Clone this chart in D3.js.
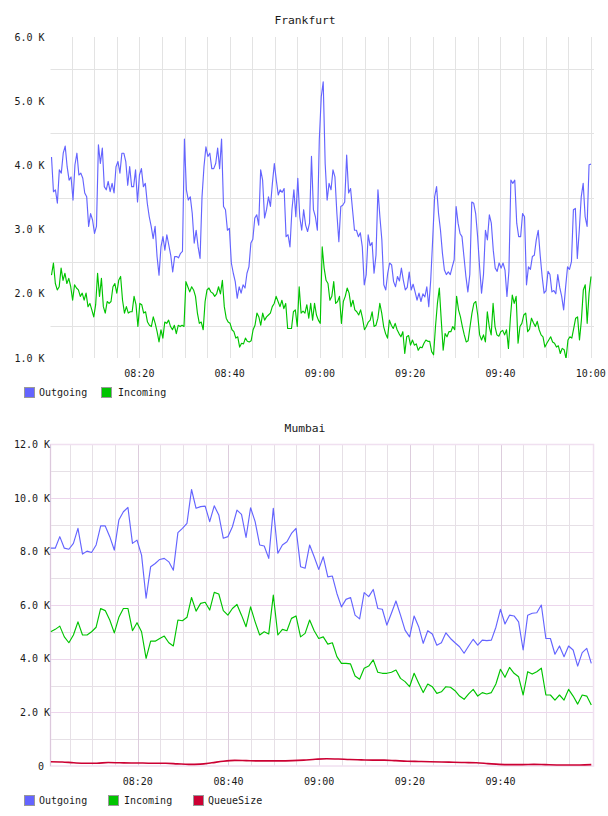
<!DOCTYPE html>
<html>
<head>
<meta charset="utf-8">
<script src="https://cdn.jsdelivr.net/npm/d3@7"></script>
<style>
html,body{margin:0;padding:0;background:#fff;}
svg{display:block;}
text{font-family:"DejaVu Sans Mono",monospace;fill:#1a1a1a;white-space:pre;}
</style>
</head>
<body>
<svg id="chart" width="608" height="816"></svg>
<script>
// ---------------- DATA ----------------
const seriesNames = ["Outgoing", "Incoming", "QueueSize"];
const seriesColors = ["#6464ff", "#00c400", "#cc0033"];

// Frankfurt (values in K), sampled uniformly between start and end
const ffTitle = "Frankfurt";
const ffStart = "08:00:32", ffEnd = "10:00:04";
const ffOutgoing = [4.13,3.59,3.62,3.41,3.93,3.88,4.19,4.30,3.98,3.77,3.82,3.46,4.01,4.19,3.85,3.88,3.80,3.57,3.51,3.05,3.25,3.15,2.94,3.05,4.32,4.03,4.27,3.67,3.62,3.75,3.59,3.72,3.57,3.98,4.06,3.88,4.19,4.19,4.06,3.69,3.98,3.67,3.67,3.93,3.43,3.85,3.95,3.67,3.72,3.41,3.20,3.05,2.86,3.05,2.58,2.29,2.73,2.89,2.68,2.92,2.76,2.60,2.34,2.58,2.58,2.56,2.63,2.66,4.41,3.62,3.46,3.51,3.25,2.79,2.99,2.73,2.55,3.51,3.98,4.29,4.14,4.19,3.95,3.95,4.03,4.27,3.95,4.41,3.36,3.31,2.99,3.02,2.48,2.32,2.19,1.93,2.11,2.01,2.14,2.09,2.32,2.42,2.79,2.85,3.18,3.23,3.07,3.93,3.77,3.18,3.31,3.51,3.36,3.72,4.03,3.77,3.54,3.62,3.58,3.64,2.89,2.92,2.73,3.31,3.62,3.20,3.80,3.20,2.99,3.31,3.07,2.97,3.10,4.14,3.31,3.20,2.99,4.40,5.07,5.30,4.03,3.46,3.72,3.62,3.93,3.82,3.25,2.81,3.36,3.38,3.43,4.16,3.57,3.64,3.31,2.99,2.99,2.89,2.95,2.73,2.14,2.30,2.92,2.75,2.80,2.32,2.60,3.62,3.20,2.84,2.14,2.06,2.32,2.48,2.45,2.19,2.11,2.27,2.20,2.40,2.21,2.06,2.10,2.34,2.06,2.15,2.03,1.90,2.01,1.88,2.00,1.95,2.11,1.80,2.21,2.84,3.51,3.67,3.25,2.99,2.63,2.37,2.30,2.34,2.30,2.42,2.53,3.36,3.10,2.94,2.89,2.58,2.27,2.03,2.30,3.43,3.41,3.25,2.89,2.42,2.01,2.30,2.99,2.84,3.23,3.10,2.68,2.40,2.35,2.48,2.40,2.48,2.37,1.96,2.35,3.77,3.72,3.77,3.10,2.89,2.89,3.25,3.20,2.14,2.42,2.38,2.58,2.60,2.84,2.99,2.60,2.27,2.01,2.05,2.35,2.30,2.03,2.05,2.00,2.30,2.10,1.96,1.75,2.10,2.42,2.38,2.50,3.31,3.33,2.55,2.99,3.51,3.72,3.20,3.05,4.01,4.02];
const ffIncoming = [2.29,2.48,2.16,2.06,2.11,2.40,2.21,2.32,2.16,2.24,2.11,1.90,2.14,2.09,2.06,1.96,2.01,1.90,2.01,1.80,1.85,1.75,1.64,1.83,2.32,1.96,2.24,1.80,1.70,1.88,1.85,1.88,2.11,2.16,2.01,2.21,2.27,1.90,1.70,1.80,1.70,1.72,1.72,1.96,1.83,1.49,1.85,1.83,1.70,1.72,1.56,1.51,1.49,1.64,1.54,1.41,1.25,1.44,1.31,1.56,1.54,1.59,1.49,1.44,1.51,1.38,1.51,1.49,1.51,1.49,2.19,2.11,2.03,2.11,2.06,1.96,1.70,1.54,1.56,1.44,1.88,2.06,2.09,2.03,2.01,1.96,2.00,2.11,2.00,2.21,1.80,1.62,1.56,1.54,1.44,1.41,1.31,1.33,1.17,1.23,1.22,1.31,1.26,1.25,1.27,1.44,1.51,1.70,1.64,1.51,1.70,1.59,1.64,1.67,1.70,1.80,1.85,1.96,1.88,1.80,1.90,1.77,1.85,1.46,1.46,1.46,1.72,1.75,1.49,2.11,1.70,1.73,1.70,1.83,1.62,1.85,1.59,1.85,1.67,1.59,1.54,2.73,2.40,2.21,2.16,1.90,1.96,2.19,1.85,1.88,1.96,1.54,1.88,1.96,2.09,2.01,1.80,1.90,1.75,1.72,1.67,1.75,1.62,1.44,1.49,1.56,1.59,1.72,1.49,1.51,1.62,1.85,1.70,1.49,1.38,1.31,1.59,1.51,1.46,1.54,1.44,1.38,1.33,1.41,1.07,1.33,1.35,1.20,1.28,1.20,1.22,1.12,1.17,1.16,1.23,1.28,1.26,1.26,1.10,1.05,1.49,1.85,2.09,1.59,1.12,1.38,1.33,1.41,1.41,1.49,1.44,1.96,1.75,1.64,1.49,1.36,1.25,1.27,1.49,1.70,1.85,1.88,1.67,1.36,1.28,1.36,1.25,1.72,1.49,1.36,1.85,1.49,1.36,1.34,1.41,1.43,1.36,1.44,1.15,1.62,1.98,1.85,1.96,1.23,1.49,1.54,1.67,1.70,1.41,1.45,1.62,1.55,1.49,1.57,1.44,1.36,1.33,1.17,1.23,1.28,1.33,1.25,1.23,1.17,1.19,1.07,1.15,1.13,0.99,1.28,1.33,1.31,1.46,1.62,1.64,1.28,1.59,2.06,2.14,1.54,2.01,2.27];
const ffYTicks = [1, 2, 3, 4, 5, 6];
const ffYLabels = ["1.0 K", "2.0 K", "3.0 K", "4.0 K", "5.0 K", "6.0 K"];
const ffYGrid = [1.5, 2.5, 3.5, 4.5, 5.5];
const ffXLabels = ["08:20", "08:40", "09:00", "09:20", "09:40", "10:00"];

// Mumbai (values in K)
const muTitle = "Mumbai";
const muStart = "08:00:49", muEnd = "10:00:00";
const muOutgoing = [8.13,8.13,8.56,8.13,8.09,8.31,8.87,7.91,8.02,7.97,8.25,8.96,8.96,8.56,8.06,9.18,9.49,9.65,8.31,8.43,7.87,6.26,7.44,7.56,7.71,7.75,7.62,7.31,8.71,8.87,9.06,10.32,9.62,9.68,9.70,9.12,9.71,9.37,8.50,8.56,8.93,9.55,9.39,8.53,9.64,9.12,8.25,8.21,7.75,9.62,7.94,8.25,8.37,8.68,8.87,7.44,7.38,8.25,7.81,7.34,7.81,7.06,7.09,6.44,5.94,6.22,6.29,5.63,5.49,6.47,6.32,6.59,5.88,5.85,5.26,5.70,6.16,5.63,5.07,4.82,5.60,5.20,4.58,5.05,4.93,4.51,4.60,4.97,4.76,4.60,4.45,4.21,4.48,4.73,4.51,4.70,4.68,4.70,5.18,5.85,5.30,5.63,5.60,5.38,4.33,5.63,5.70,5.72,6.01,4.76,4.76,4.17,4.48,4.08,4.48,4.33,3.73,4.23,4.39,3.83];
const muIncoming = [5.01,5.10,5.22,4.82,4.60,4.89,5.38,4.89,4.89,5.01,5.18,5.88,5.80,5.45,4.97,5.55,5.88,5.88,5.05,5.35,5.01,4.02,4.66,4.66,4.76,4.85,4.60,4.48,5.45,5.42,5.55,6.29,5.78,6.07,6.11,5.82,6.48,6.42,5.80,5.63,5.88,6.03,5.63,5.20,5.94,5.38,4.89,5.01,4.93,6.38,4.89,5.10,5.05,5.51,5.60,4.82,4.95,5.45,5.05,4.76,4.82,4.55,4.60,4.08,3.83,3.83,3.81,3.36,3.24,3.65,3.73,3.96,3.50,3.46,3.46,3.50,3.58,3.27,3.15,2.96,3.46,3.09,2.74,3.06,2.96,2.71,2.77,2.96,2.94,2.81,2.61,2.49,2.69,2.86,2.61,2.74,2.69,2.74,3.06,3.61,3.31,3.68,3.46,3.33,2.65,3.52,3.43,3.52,3.65,2.65,2.65,2.46,2.65,2.46,2.86,2.61,2.31,2.65,2.61,2.28];
const muQueue = [0.16,0.15,0.12,0.10,0.10,0.13,0.12,0.11,0.11,0.10,0.10,0.08,0.06,0.07,0.12,0.18,0.21,0.20,0.19,0.19,0.19,0.20,0.22,0.25,0.27,0.26,0.24,0.23,0.22,0.22,0.20,0.18,0.17,0.16,0.15,0.14,0.13,0.12,0.09,0.06,0.05,0.05,0.06,0.05,0.04,0.04,0.04,0.05];
const muYTicks = [0, 2, 4, 6, 8, 10, 12];
const muYLabels = ["0 ", "2.0 K", "4.0 K", "6.0 K", "8.0 K", "10.0 K", "12.0 K"];
const muYMinor = [1, 3, 5, 7, 9, 11];
const muXLabels = ["08:20", "08:40", "09:00", "09:20", "09:40"];

// ---------------- DRAW ----------------
const svg = d3.select("#chart");
const parseHM = d3.timeParse("%H:%M");
const parseHMS = d3.timeParse("%H:%M:%S");
const t0 = parseHM("08:00"), t1 = parseHM("10:00");

function samples(values, start, end) {
  const a = parseHMS(start).getTime(), b = parseHMS(end).getTime();
  const n = values.length;
  return values.map((v, i) => ({ t: new Date(a + (b - a) * i / (n - 1)), v }));
}

function fiveMinTicks() {
  return d3.timeMinute.every(5).range(d3.timeMinute.offset(t0, 5), d3.timeMinute.offset(t1, 1));
}

// ---------- Frankfurt ----------
(function () {
  const L = 50.5, R = 594, T = 37, B = 358;
  const x = d3.scaleTime().domain([t0, t1]).range([49.1, 590.7]);
  const y = d3.scaleLinear().domain([1, 6]).range([B, T]);
  const g = svg.append("g");

  g.append("text").attr("x", 305).attr("y", 24).attr("text-anchor", "middle")
    .style("font-size", "11.3px").text(ffTitle);

  g.selectAll(".hg").data(ffYGrid).join("line")
    .attr("x1", L).attr("x2", R)
    .attr("y1", d => Math.round(y(d)) + 0.5).attr("y2", d => Math.round(y(d)) + 0.5)
    .attr("stroke", "#e3e3e3").attr("stroke-width", 1);
  g.selectAll(".vg").data(fiveMinTicks()).join("line")
    .attr("x1", d => Math.round(x(d)) + 0.5).attr("x2", d => Math.round(x(d)) + 0.5)
    .attr("y1", T).attr("y2", B)
    .attr("stroke", "#e3e3e3").attr("stroke-width", 1);

  g.selectAll(".yl").data(ffYTicks).join("text")
    .attr("x", 44.5).attr("y", d => y(d)).attr("dy", "0.35em")
    .attr("text-anchor", "end").style("font-size", "10px")
    .text((d, i) => ffYLabels[i]);
  g.selectAll(".xl").data(ffXLabels).join("text")
    .attr("x", d => x(parseHM(d))).attr("y", 377)
    .attr("text-anchor", "middle").style("font-size", "10px")
    .text(d => d);

  svg.append("clipPath").attr("id", "clipF").append("rect")
    .attr("x", L).attr("y", T).attr("width", R - L).attr("height", B - T);
  const line = d3.line().x(d => x(d.t)).y(d => y(d.v));
  [ffOutgoing, ffIncoming].forEach((vals, i) => {
    g.append("path").datum(samples(vals, ffStart, ffEnd))
      .attr("clip-path", "url(#clipF)")
      .attr("d", line).attr("fill", "none")
      .attr("stroke", seriesColors[i]).attr("stroke-width", 1.15)
      .attr("stroke-linejoin", "round");
  });

  const lx = [24.5, 101.5], tx = [39, 118];
  [0, 1].forEach(i => {
    g.append("rect").attr("x", lx[i]).attr("y", 387.5).attr("width", 10).attr("height", 10)
      .attr("fill", seriesColors[i]).attr("stroke", "#999").attr("stroke-width", 1);
    g.append("text").attr("x", tx[i]).attr("y", 396).style("font-size", "10px").text(seriesNames[i]);
  });
})();

// ---------- Mumbai ----------
(function () {
  const L = 50.5, R = 593.5, T = 444.5, B = 766;
  const x = d3.scaleTime().domain([t0, t1]).range([47.0, 591.3]);
  const y = d3.scaleLinear().domain([0, 12]).range([B, T]);
  const g = svg.append("g");

  g.append("text").attr("x", 305).attr("y", 432).attr("text-anchor", "middle")
    .style("font-size", "11.3px").text(muTitle);

  const minorC = "#e6e0e6", majorC = "#ecd6ec";
  g.selectAll(".hm").data(muYMinor).join("line")
    .attr("x1", L).attr("x2", R)
    .attr("y1", d => Math.round(y(d)) + 0.5).attr("y2", d => Math.round(y(d)) + 0.5)
    .attr("stroke", minorC);
  g.selectAll(".vg").data(fiveMinTicks().filter(d => d < t1)).join("line")
    .attr("x1", d => Math.round(x(d)) + 0.5).attr("x2", d => Math.round(x(d)) + 0.5)
    .attr("y1", T).attr("y2", B)
    .attr("stroke", d => d.getMinutes() % 20 === 0 ? "#ddcddd" : minorC);
  g.selectAll(".hM").data(muYTicks.filter(d => d > 0 && d < 12)).join("line")
    .attr("x1", L).attr("x2", R)
    .attr("y1", d => Math.round(y(d)) + 0.5).attr("y2", d => Math.round(y(d)) + 0.5)
    .attr("stroke", majorC).attr("stroke-width", 1.2);

  g.append("rect").attr("x", L).attr("y", T).attr("width", R - L).attr("height", B - T)
    .attr("fill", "none").attr("stroke", "#f0e0f0").attr("stroke-width", 1.5);
  g.append("line").attr("x1", L).attr("x2", L).attr("y1", T).attr("y2", B)
    .attr("stroke", "#dcc8dc").attr("stroke-width", 1);

  g.selectAll(".yl").data(muYTicks).join("text")
    .attr("x", 50).attr("y", d => y(d)).attr("dy", "0.35em")
    .attr("text-anchor", "end").style("font-size", "10px")
    .text((d, i) => muYLabels[i]);
  g.selectAll(".xl").data(muXLabels).join("text")
    .attr("x", d => x(parseHM(d))).attr("y", 785)
    .attr("text-anchor", "middle").style("font-size", "10px")
    .text(d => d);

  svg.append("clipPath").attr("id", "clipM").append("rect")
    .attr("x", L).attr("y", T).attr("width", R - L).attr("height", B - T);
  const line = d3.line().x(d => x(d.t)).y(d => y(d.v));
  const smooth = d3.line().curve(d3.curveMonotoneX).x(d => x(d.t)).y(d => y(d.v));
  [muOutgoing, muIncoming, muQueue].forEach((vals, i) => {
    g.append("path").datum(samples(vals, muStart, muEnd))
      .attr("clip-path", "url(#clipM)")
      .attr("d", i === 2 ? smooth : line)
      .attr("fill", "none")
      .attr("stroke", seriesColors[i]).attr("stroke-width", i === 2 ? 1.6 : 1.15)
      .attr("stroke-linejoin", "round");
  });

  const lx = [24.5, 108.5, 193.5], tx = [39, 124, 208];
  [0, 1, 2].forEach(i => {
    g.append("rect").attr("x", lx[i]).attr("y", 795.5).attr("width", 10).attr("height", 10)
      .attr("fill", seriesColors[i]).attr("stroke", "#999").attr("stroke-width", 1);
    g.append("text").attr("x", tx[i]).attr("y", 804).style("font-size", "10px").text(seriesNames[i]);
  });
})();
</script>
</body>
</html>
